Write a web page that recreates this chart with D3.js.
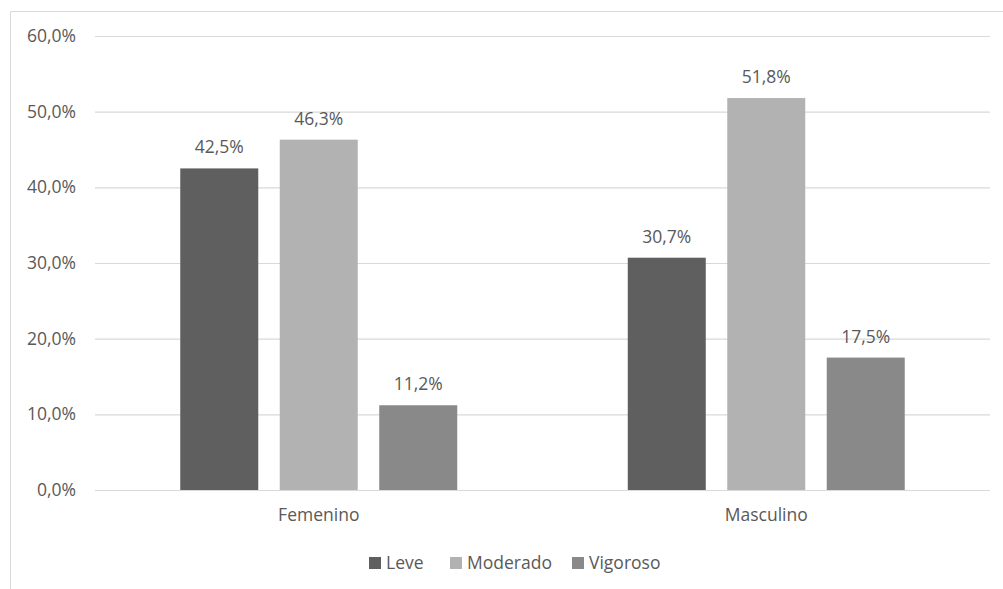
<!DOCTYPE html>
<html>
<head>
<meta charset="utf-8">
<script src="https://cdn.jsdelivr.net/npm/d3@7"></script>
<style>
  html, body { margin: 0; padding: 0; background: #ffffff; }
  svg { display: block; }
  text { font-family: "Open Sans", "Noto Sans", sans-serif; fill: #595959; }
</style>
</head>
<body>
<svg id="chart" width="1003" height="589"></svg>
<script>
// Physical activity level by sex (percent)
const categories = ["Femenino", "Masculino"];
const series = ["Leve", "Moderado", "Vigoroso"];
const leve = [42.5, 30.7];
const moderado = [46.3, 51.8];
const vigoroso = [11.2, 17.5];
const yTicks = [0, 10, 20, 30, 40, 50, 60];
const colors = ["#5f5f5f", "#b2b2b2", "#898989"];

const valuesBySeries = [leve, moderado, vigoroso];
const rows = categories.map((c, i) => ({
  category: c,
  values: series.map((s, j) => ({ series: s, value: valuesBySeries[j][i] }))
}));

const fmt = v => v.toFixed(1).replace(".", ",") + "%";
const fontSize = "17.5px";

const svg = d3.select("#chart");
const plot = { left: 95, right: 990, top: 36, bottom: 490 };

// chart area frame
svg.append("path")
  .attr("d", "M10.5,600 V11.5 H1010")
  .attr("fill", "none")
  .attr("stroke", "#d9d9d9")
  .attr("stroke-width", 1);

const y = d3.scaleLinear().domain([0, 60]).range([plot.bottom, plot.top]);
const x0 = d3.scaleBand().domain(categories).range([plot.left, plot.right]).padding(0);
const x1 = d3.scaleBand().domain(series).range([0, x0.bandwidth()])
  .paddingInner(0.216).paddingOuter(0.857);
const color = d3.scaleOrdinal().domain(series).range(colors);

// gridlines and y labels
const yAxis = d3.axisLeft(y)
  .tickValues(yTicks)
  .tickSize(-(plot.right - plot.left))
  .tickPadding(19)
  .tickFormat(fmt);

const gy = svg.append("g")
  .attr("transform", `translate(${plot.left},0)`)
  .call(yAxis);
gy.select(".domain").remove();
gy.selectAll(".tick line").attr("stroke", "#d9d9d9").attr("stroke-width", 1.2);
gy.selectAll(".tick text")
  .attr("fill", "#595959")
  .style("font-size", fontSize);

// bars
const groups = svg.append("g").selectAll("g")
  .data(rows)
  .join("g")
  .attr("transform", d => `translate(${x0(d.category)},0)`);

groups.selectAll("rect")
  .data(d => d.values)
  .join("rect")
  .attr("x", d => x1(d.series))
  .attr("y", d => y(d.value))
  .attr("width", x1.bandwidth())
  .attr("height", d => y(0) - y(d.value))
  .attr("fill", d => color(d.series));

// value labels
groups.selectAll("text.value")
  .data(d => d.values)
  .join("text")
  .attr("class", "value")
  .attr("x", d => x1(d.series) + x1.bandwidth() / 2)
  .attr("y", d => y(d.value) - 15)
  .attr("text-anchor", "middle")
  .style("font-size", fontSize)
  .text(d => fmt(d.value));

// x axis category labels
const xAxis = d3.axisBottom(x0).tickSize(0).tickPadding(19);
const gx = svg.append("g")
  .attr("transform", `translate(0,${plot.bottom})`)
  .call(xAxis);
gx.select(".domain").remove();
gx.selectAll(".tick text")
  .attr("fill", "#595959")
  .style("font-size", fontSize);

// legend
const legendX = [369, 450, 572];
const legend = svg.append("g").selectAll("g")
  .data(series)
  .join("g")
  .attr("transform", (d, i) => `translate(${legendX[i]},563)`);
legend.append("rect")
  .attr("x", 0).attr("y", -6)
  .attr("width", 12).attr("height", 12)
  .attr("fill", d => color(d));
legend.append("text")
  .attr("x", 17).attr("y", 0)
  .attr("dy", "0.35em")
  .style("font-size", fontSize)
  .text(d => d);
</script>
</body>
</html>
